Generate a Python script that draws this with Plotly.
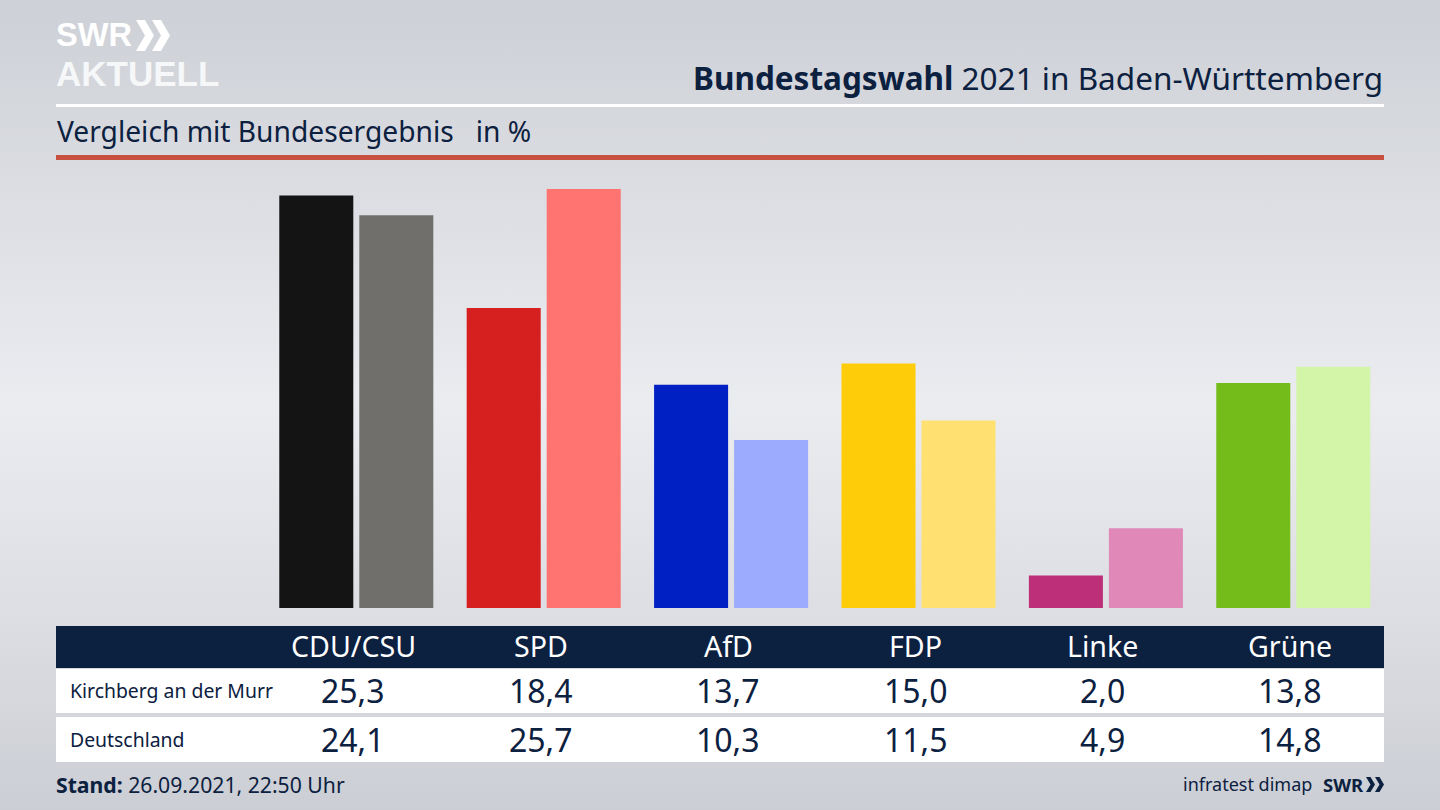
import plotly.graph_objects as go

parties = ['CDU/CSU', 'SPD', 'AfD', 'FDP', 'Linke', 'Grüne']
kirchberg = [25.3, 18.4, 13.7, 15.0, 2.0, 13.8]
deutschland = [24.1, 25.7, 10.3, 11.5, 4.9, 14.8]
row_names = ['Kirchberg an der Murr', 'Deutschland']

colors_kirchberg = ['#141414', '#d61f1f', '#0020c4', '#ffcc0a', '#bd2f78', '#74bc1a']
colors_deutschland = ['#706f6c', '#ff7370', '#9dabff', '#ffe070', '#e088b8', '#d3f5a8']

NAVY = '#0c2040'
FONT = 'Noto Sans'
LOGO_FONT = 'Liberation Sans'
W, H = 1440, 810


def px(x):
    return x / W


def py(y):
    return 1 - y / H


def rect(x0, y0, x1, y1, color):
    return dict(type='rect', xref='paper', yref='paper', x0=px(x0), x1=px(x1), y0=py(y0), y1=py(y1),
                fillcolor=color, line_width=0, layer='below')


def chevron(x, y, w, h, color):
    # one ">" of the SWR logo
    pts = [(x, y), (x + w * 0.5, y), (x + w, y + h / 2), (x + w * 0.5, y + h), (x, y + h), (x + w * 0.5, y + h / 2)]
    path = 'M ' + ' L '.join(f'{px(a):.5f},{py(b):.5f}' for a, b in pts) + ' Z'
    return dict(type='path', xref='paper', yref='paper', path=path, fillcolor=color, line_width=0)


def text(x, y, s, size, color=NAVY, anchor='left', family=FONT):
    return dict(xref='paper', yref='paper', x=px(x), y=py(y), text=s, showarrow=False, xanchor=anchor,
                yanchor='middle', font=dict(family=family, size=size, color=color))


def fmt(v):
    return f'{v:.1f}'.replace('.', ',')


fig = go.Figure()
fig.add_trace(go.Bar(x=parties, y=kirchberg, name=row_names[0], marker=dict(color=colors_kirchberg, line_width=0)))
fig.add_trace(go.Bar(x=parties, y=deutschland, name=row_names[1], marker=dict(color=colors_deutschland, line_width=0)))

shapes = [
    rect(56, 104, 1384, 107, '#ffffff'),
    rect(56, 155, 1384, 160, '#c8503f'),
    rect(56, 626, 1384, 668, NAVY),
    rect(56, 669, 1384, 713, '#ffffff'),
    rect(56, 717, 1384, 762, '#ffffff'),
    chevron(136, 20, 18, 31, '#ffffff'),
    chevron(152, 20, 18, 31, '#ffffff'),
    chevron(1366, 777, 9, 15, NAVY),
    chevron(1375, 777, 9, 15, NAVY),
]

annotations = [
    text(54, 35, '<b>SWR</b>', 32.6, '#ffffff', family=LOGO_FONT),
    text(54, 74, '<b>AKTUELL</b>', 35, '#f6f7f8', family=LOGO_FONT),
    text(1385, 77, '<b>Bundestagswahl</b> 2021 in Baden-Württemberg', 31.5, anchor='right'),
    text(55, 131, 'Vergleich mit Bundesergebnis   in %', 28.2),
    text(68, 690, row_names[0], 19.4),
    text(68, 739, row_names[1], 19.4),
    text(54, 784, '<b>Stand:</b> 26.09.2021, 22:50 Uhr', 21.2),
    text(1314, 784, 'infratest dimap', 18, anchor='right'),
    text(1366, 784, '<b>SWR</b>', 18.5, anchor='right'),
]

for i, party in enumerate(parties):
    for y, label, size, color in [(645, party, 28.6, '#ffffff'),
                                  (690, fmt(kirchberg[i]), 32, NAVY),
                                  (739, fmt(deutschland[i]), 32, NAVY)]:
        annotations.append(dict(xref='x', yref='paper', x=party, y=py(y), xshift=-3, text=label, showarrow=False,
                                xanchor='center', yanchor='middle', font=dict(family=FONT, size=size, color=color)))

background = ("data:image/svg+xml;utf8,<svg xmlns='http://www.w3.org/2000/svg' width='1440' height='810'>"
              "<defs><linearGradient id='g' x1='0' y1='0' x2='0' y2='1'>"
              "<stop offset='0' stop-color='%23cdd0d6'/><stop offset='0.5' stop-color='%23ebecf0'/>"
              "<stop offset='0.76' stop-color='%23dddee3'/><stop offset='1' stop-color='%23cbced4'/>"
              "</linearGradient></defs>"
              "<rect width='1440' height='810' fill='url(%23g)'/></svg>")

fig.update_layout(
    width=W, height=H, margin=dict(l=0, r=0, t=0, b=0), showlegend=False,
    paper_bgcolor='#dcdee3', plot_bgcolor='rgba(0,0,0,0)',
    barmode='group', bargap=0.146, bargroupgap=0.075,
    xaxis=dict(domain=[px(262.6), px(1387)], showticklabels=False, showgrid=False, zeroline=False, ticks=''),
    yaxis=dict(domain=[py(608), py(184.2)], range=[0, 26], showticklabels=False, showgrid=False, zeroline=False,
               ticks=''),
    shapes=shapes, annotations=annotations,
    images=[dict(source=background, xref='paper', yref='paper', x=0, y=1, sizex=1, sizey=1, sizing='stretch',
                 xanchor='left', yanchor='top', layer='below')],
)

fig.write_html('out.html', config={'displayModeBar': False},
               post_script="document.body.style.margin='0';document.body.style.overflow='hidden';")
